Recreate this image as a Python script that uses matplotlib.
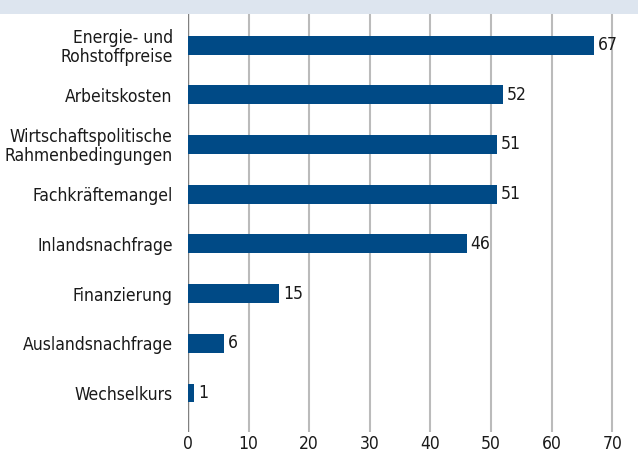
import matplotlib.pyplot as plt
import matplotlib.patches as patches

categories = ["Energie- und\nRohstoffpreise", "Arbeitskosten",
              "Wirtschaftspolitische\nRahmenbedingungen", "Fachkräftemangel",
              "Inlandsnachfrage", "Finanzierung", "Auslandsnachfrage", "Wechselkurs"]
values = [67, 52, 51, 51, 46, 15, 6, 1]
xticks = [0, 10, 20, 30, 40, 50, 60, 70]

plt.rcParams['font.family'] = ['DejaVu Sans']
plt.rcParams['font.stretch'] = 'condensed'

W, H = 638, 454
fig = plt.figure(figsize=(W / 100, H / 100), dpi=100)
fig.patches.append(patches.Rectangle((0, 1 - 14 / H), 1, 14 / H, transform=fig.transFigure,
                                     facecolor='#dde5ef', edgecolor='none', zorder=0))

ax = fig.add_axes([188 / W, 1 - 432 / H, 450 / W, 418 / H])
ypos = list(range(len(categories)))
ax.barh(ypos, values, height=0.38, color='#004a86', zorder=3)
for y, v in zip(ypos, values):
    ax.text(v + 0.65, y, str(v), va='center', ha='left', fontsize=12.5, color='#1a1a1a')

ax.set_xlim(0, 450 / 6.06)
ax.set_ylim(len(categories) - 1 + 0.785, -0.625)
ax.set_xticks(xticks)
ax.set_yticks(ypos)
ax.set_yticklabels(categories, fontsize=12.5, color='#1a1a1a', linespacing=1.05)
ax.tick_params(axis='both', length=0, labelsize=12.5, colors='#1a1a1a')
ax.tick_params(axis='x', pad=2.5)
ax.tick_params(axis='y', pad=11)
ax.grid(axis='x', color='#bbbbbb', linewidth=1.5, zorder=0)
for s in ax.spines.values():
    s.set_visible(False)
ax.axvline(0, color='#808080', linewidth=1, zorder=2)

fig.savefig('out.png', dpi=100)
